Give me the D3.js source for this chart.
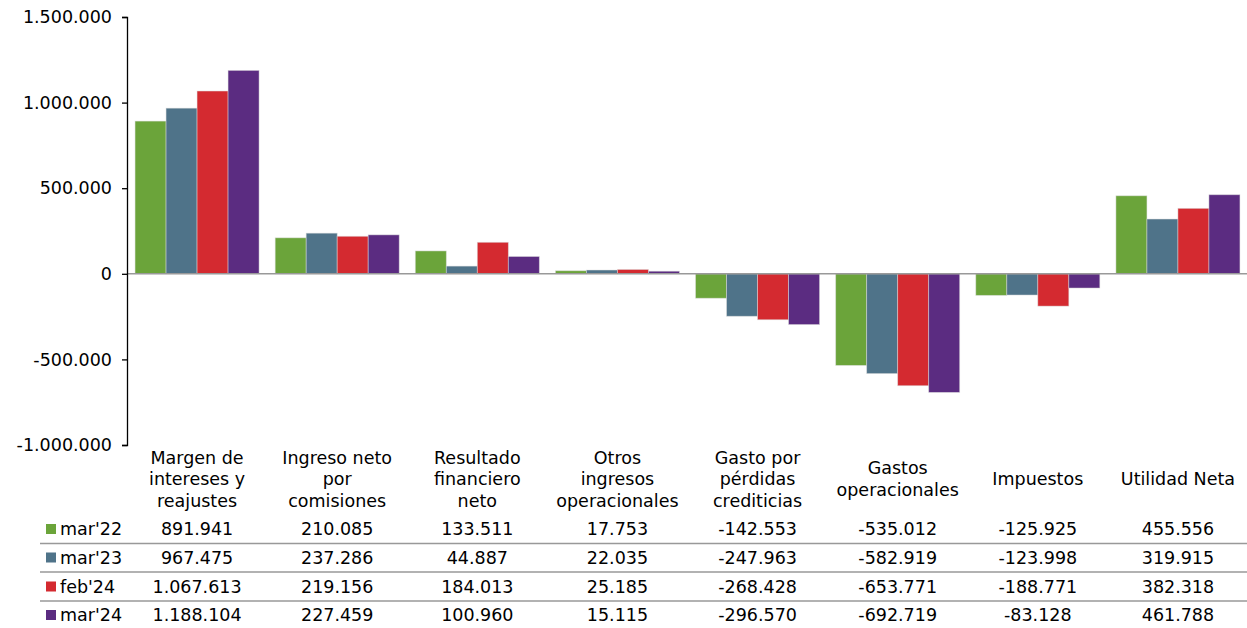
<!DOCTYPE html>
<html>
<head>
<meta charset="utf-8">
<script src="https://cdn.jsdelivr.net/npm/d3@7"></script>
<style>
  html, body { margin: 0; padding: 0; background: #fff; }
  svg { display: block; font-family: "DejaVu Sans", Verdana, sans-serif; }
</style>
</head>
<body>
<svg id="chart" width="1247" height="628"></svg>
<script>
// Categories (each label split into its display lines)
const categories = [
  ["Margen de", "intereses y", "reajustes"],
  ["Ingreso neto", "por", "comisiones"],
  ["Resultado", "financiero", "neto"],
  ["Otros", "ingresos", "operacionales"],
  ["Gasto por", "pérdidas", "crediticias"],
  ["Gastos", "operacionales"],
  ["Impuestos"],
  ["Utilidad Neta"]
];

const seriesNames = ["mar'22", "mar'23", "feb'24", "mar'24"];
const seriesColors = ["#6ba43a", "#4f7389", "#d42a30", "#5b2c81"];

const mar22 = [891941, 210085, 133511, 17753, -142553, -535012, -125925, 455556];
const mar23 = [967475, 237286, 44887, 22035, -247963, -582919, -123998, 319915];
const feb24 = [1067613, 219156, 184013, 25185, -268428, -653771, -188771, 382318];
const mar24 = [1188104, 227459, 100960, 15115, -296570, -692719, -83128, 461788];
const seriesValues = [mar22, mar23, feb24, mar24];

const yTicks = [-1000000, -500000, 0, 500000, 1000000, 1500000];

const locale = d3.formatLocale({ decimal: ",", thousands: ".", grouping: [3], currency: ["", ""], minus: "-" });
const fmt = locale.format(",d");

const svg = d3.select("#chart");
const plotLeft = 127, plotRight = 1248, plotTop = 17, plotBottom = 445;

const x = d3.scaleBand().domain(d3.range(categories.length)).range([plotLeft, plotRight]).paddingInner(0.115).paddingOuter(0.0575);
const x1 = d3.scaleBand().domain(d3.range(seriesNames.length)).range([0, x.bandwidth()]);
const y = d3.scaleLinear().domain([-1000000, 1500000]).range([plotBottom, plotTop]);

// Bars
const groups = svg.append("g").selectAll("g")
  .data(categories.map((c, i) => i))
  .join("g")
  .attr("transform", i => `translate(${x(i)},0)`);

groups.selectAll("rect")
  .data(i => seriesValues.map((s, k) => ({ k, v: s[i] })))
  .join("rect")
  .attr("x", d => x1(d.k))
  .attr("width", x1.bandwidth())
  .attr("y", d => y(Math.max(0, d.v)))
  .attr("height", d => Math.abs(y(d.v) - y(0)))
  .attr("fill", d => seriesColors[d.k])
  .attr("stroke", "rgba(220,220,220,0.6)")
  .attr("stroke-width", 0.8);

// Zero line
svg.append("line")
  .attr("x1", plotLeft).attr("x2", 1247)
  .attr("y1", y(0)).attr("y2", y(0))
  .attr("stroke", "#999").attr("stroke-width", 1.6);

// Y axis
const yAxis = d3.axisLeft(y).tickValues(yTicks).tickFormat(fmt).tickSize(5).tickPadding(10);
const ag = svg.append("g").attr("transform", `translate(${plotLeft},0)`).call(yAxis);
ag.select(".domain").attr("stroke", "#000").attr("stroke-width", 1.3);
ag.selectAll(".tick line").attr("stroke", "#000").attr("stroke-width", 1.3);
ag.selectAll(".tick text").attr("fill", "#000").style("font-size", "17.5px").style("font-family", "'DejaVu Sans', Verdana, sans-serif");

// Category labels, vertically centred
const lineH = 21.5;
categories.forEach((lines, i) => {
  const cx = x(i) + x.bandwidth() / 2;
  const startY = 479 - (lines.length - 1) * lineH / 2;
  const t = svg.append("text")
    .attr("text-anchor", "middle")
    .attr("font-size", "17.5px")
    .attr("fill", "#000");
  lines.forEach((ln, j) => {
    t.append("tspan").attr("x", cx).attr("y", startY + j * lineH).attr("dy", "0.35em").text(ln);
  });
});

// Data table
const rowY = [529, 557.5, 586.5, 615];
const sepY = [543.5, 572, 601];
sepY.forEach(sy => {
  svg.append("line").attr("x1", 40).attr("x2", 1247).attr("y1", sy).attr("y2", sy)
    .attr("stroke", "#999").attr("stroke-width", 1.6);
});

seriesNames.forEach((name, k) => {
  svg.append("rect").attr("x", 46).attr("y", rowY[k] - 5).attr("width", 10).attr("height", 10)
    .attr("fill", seriesColors[k]);
  svg.append("text").attr("x", 60).attr("y", rowY[k]).attr("dy", "0.35em")
    .attr("font-size", "17.5px").attr("fill", "#000").text(name);
  seriesValues[k].forEach((v, i) => {
    svg.append("text")
      .attr("x", x(i) + x.bandwidth() / 2)
      .attr("y", rowY[k]).attr("dy", "0.35em")
      .attr("text-anchor", "middle")
      .attr("font-size", "17.5px").attr("fill", "#000")
      .text(fmt(v));
  });
});
</script>
</body>
</html>
